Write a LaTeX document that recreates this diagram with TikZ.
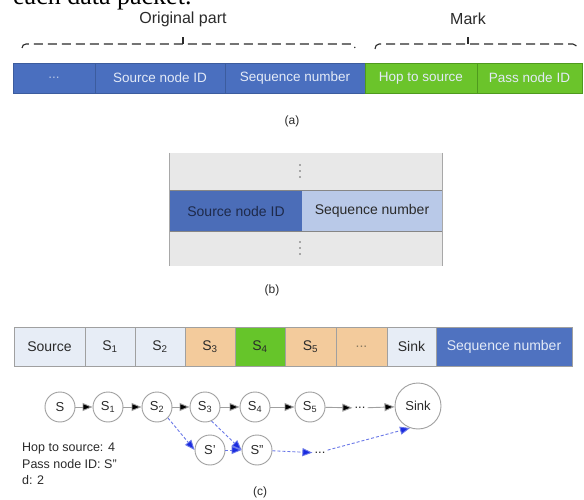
\documentclass[tikz,border=0pt]{standalone}
\usepackage{fontspec}
\setmainfont{Liberation Sans}
\newfontfamily\seriffont{Liberation Serif}
\usetikzlibrary{arrows.meta}
\definecolor{abluea}{HTML}{4A6FBF}
\definecolor{aborder}{HTML}{3C5C9E}
\definecolor{agreen}{HTML}{6BC42B}
\definecolor{agborder}{HTML}{4F9A1E}
\definecolor{lighttext}{HTML}{E3EAF7}
\definecolor{bdark}{HTML}{4B6DB8}
\definecolor{blight}{HTML}{B9C9E8}
\definecolor{bgray}{HTML}{E8E8E8}
\definecolor{bline}{HTML}{A8A8A8}
\definecolor{navy}{HTML}{1E2A4A}
\definecolor{clight}{HTML}{E7EDF6}
\definecolor{corange}{HTML}{F3CB9C}
\definecolor{cgreen}{HTML}{66C52A}
\definecolor{cblue}{HTML}{4F72C0}
\definecolor{cline}{HTML}{A0A0A0}
\definecolor{darktext}{HTML}{2A2A2A}
\definecolor{dotbrown}{HTML}{8A7A60}
\definecolor{arrblue}{HTML}{1A2BE0}
\definecolor{dashblue}{HTML}{6A78E8}
\tikzset{
  fs/.style={font=\fontsize{#1}{#1}\selectfont},
  acell/.style={draw=aborder, fill=abluea, minimum height=30pt, inner sep=0pt, text=lighttext, fs=13.5},
  agcell/.style={draw=agborder, fill=agreen, minimum height=30pt, inner sep=0pt, text=lighttext, fs=13.5},
  brace/.style={draw=darktext, line width=1.1pt, dash pattern=on 9pt off 5pt},
  bcell/.style={minimum height=#1, inner sep=0pt, fs=14},
  ccell/.style={draw=cline, fill=clight, minimum height=39pt, inner sep=0pt, text=darktext, fs=14},
  circ/.style={circle, draw=cline, fill=white, line width=0.9pt, minimum size=30pt, inner sep=0pt, text=darktext, fs=13},
  garr/.style={draw=cline, line width=0.9pt, -{Triangle[length=10pt,width=8pt,fill=black]}},
  barr/.style={draw=dashblue, line width=0.9pt, dash pattern=on 3pt off 2pt, -{Triangle[length=10pt,width=8pt,fill=arrblue]}},
  lbl/.style={fs=12, text=darktext},
}
\begin{document}
\begin{tikzpicture}[x=1pt,y=-1pt]
\useasboundingbox[fill=white] (0,0) rectangle (584,500);
% clipped caption text
\node[anchor=base west, inner sep=0pt, font=\seriffont\fontsize{26}{26}\selectfont] (cap) at (13,4.5) {each data packet.};

% ---------- (a) ----------
\node[fs=16, text=darktext] (orig) at (183,19) {Original part};
\node[fs=16, text=darktext] (mark) at (468,19) {Mark};
\draw[brace] (22,48) to[out=90,in=180] (26,44) -- (351,44) to[out=0,in=90] (355,48);
\draw[darktext, line width=1.1pt] (183,44) -- (183,37);
\draw[brace] (375,49) to[out=90,in=180] (379,44) -- (573,44) to[out=0,in=90] (577,49);
\draw[darktext, line width=1.1pt] (468,44) -- (468,37);

\node[acell, minimum width=82pt] (a1) at (54,78) {\textcolor{lighttext!70!abluea}{...}};
\node[acell, minimum width=130pt] (a2) at (160,78) {Source node ID};
\node[acell, minimum width=140pt] (a3) at (295,78) {Sequence number};
\node[agcell, minimum width=112pt] (a4) at (421,78) {Hop to source};
\node[agcell, minimum width=105pt] (a5) at (529.5,78) {Pass node ID};
\node[lbl] (la) at (292,121) {(a)};

% ---------- (b) ----------
\node[bcell=38pt, fill=bgray, minimum width=272pt] (b1) at (306,172) {};
\node[bcell=40pt, fill=bdark, minimum width=132pt, text=navy] (b2) at (236,211) {Source node ID};
\node[bcell=40pt, fill=blight, minimum width=140pt, text=darktext] (b3) at (372,211) {Sequence number};
\node[bcell=35pt, fill=bgray, minimum width=272pt] (b4) at (306,248.5) {};
\draw[bline, line width=0.8pt] (b1.north west) -- (b4.south west);
\draw[bline, line width=0.8pt] (b1.north east) -- (b4.south east);
\draw[bline!80!black, line width=0.8pt] (b2.north west) -- (b3.north east);
\draw[bline!80!black, line width=0.8pt] (b2.south west) -- (b3.south east);
\foreach \yy in {165,171,177} \fill[gray!80!black] (300,\yy) circle (0.9pt);
\foreach \yy in {242,248,254} \fill[gray!80!black] (300,\yy) circle (0.9pt);
\node[lbl] (lb) at (272,290) {(b)};

% ---------- (c) bar ----------
\node[ccell, minimum width=71pt] (c1) at (49.5,346.5) {Source};
\node[ccell, minimum width=50pt] (c2) at (110,346.5) {S\textsubscript{1}};
\node[ccell, minimum width=50pt] (c3) at (160,346.5) {S\textsubscript{2}};
\node[ccell, minimum width=50pt, fill=corange] (c4) at (210,346.5) {S\textsubscript{3}};
\node[ccell, minimum width=50pt, fill=cgreen] (c5) at (260,346.5) {S\textsubscript{4}};
\node[ccell, minimum width=51pt, fill=corange] (c6) at (310.5,346.5) {S\textsubscript{5}};
\node[ccell, minimum width=51pt, fill=corange, text=dotbrown] (c7) at (361.5,346.5) {...};
\node[ccell, minimum width=49pt] (c8) at (411.5,346.5) {Sink};
\node[ccell, minimum width=136pt, fill=cblue, text=lighttext] (c9) at (504,346.5) {Sequence number};

% ---------- (c) graph ----------
\node[circ] (s) at (60,407) {S};
\node[circ] (s1) at (108,407) {S\textsubscript{1}};
\node[circ] (s2) at (157,407) {S\textsubscript{2}};
\node[circ] (s3) at (205,407) {S\textsubscript{3}};
\node[circ] (s4) at (255,407) {S\textsubscript{4}};
\node[circ] (s5) at (310,407) {S\textsubscript{5}};
\node[fs=13, text=darktext, inner sep=2pt] (dots) at (360,408) {...};
\node[circ, minimum size=46pt] (sink) at (418,406) {Sink};
\node[circ] (sp) at (210,450) {S'};
\node[circ] (spp) at (257,450) {S''};
\node[fs=13, text=darktext, inner sep=2pt] (dots2) at (320,453) {...};

\draw[garr] (s) -- (s1);
\draw[garr] (s1) -- (s2);
\draw[garr] (s2) -- (s3);
\draw[garr] (s3) -- (s4);
\draw[garr] (s4) -- (s5);
\draw[garr] (s5) -- (dots);
\draw[garr] (dots) -- (sink);

\draw[barr] (s2.south east) -- (sp.west);
\draw[barr] (s3.-65) -- (spp.west);
\draw[barr] (sp) -- (spp);
\draw[barr] (spp) -- (dots2);
\draw[barr] (dots2.north east) -- (sink.-110);

\node[anchor=north west, align=left, text=darktext, inner sep=0pt,
      font=\fontsize{12.5}{16.5}\selectfont] (info) at (22,443)
  {Hop to source: 4\\Pass node ID: S''\\d: 2};
\node[lbl] (lc) at (260,492) {(c)};
\end{tikzpicture}
\end{document}
